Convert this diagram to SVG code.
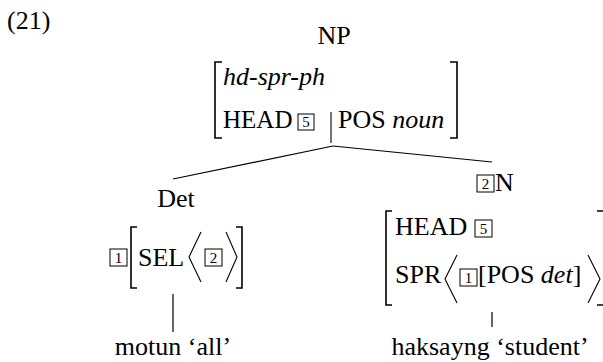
<svg xmlns="http://www.w3.org/2000/svg" width="603" height="362" viewBox="0 0 603 362">
<style>
text{font-family:"Liberation Serif","Times New Roman",serif;font-size:26px;fill:#000}
.it{font-style:italic}
.num{font-size:15px;text-anchor:middle}
.mid{text-anchor:middle}
.box{fill:none;stroke:#000;stroke-width:1}
.br{fill:none;stroke:#000;stroke-width:1.6}
.ang{fill:none;stroke:#000;stroke-width:1.1}
.ln{stroke:#000;stroke-width:1.2;fill:none}
</style>
<rect width="603" height="362" fill="#fff"/>
<text x="7" y="29">(21)</text>

<g id="np">
<text x="334" y="44" class="mid">NP</text>
<path class="br" d="M222,62 H215 V138 H222"/>
<path class="br" d="M450,62 H457 V138 H450"/>
<text x="223" y="85" class="it">hd-spr-ph</text>
<text x="223" y="128" style="font-size:25px">HEAD</text>
<rect class="box" x="298" y="114" width="16" height="16"/>
<text x="306" y="127" class="num">5</text>
<line class="ang" x1="331" y1="112" x2="331" y2="143"/>
<text x="338" y="128">POS <tspan class="it">noun</tspan></text>
</g>

<g id="connectors">
<line class="ln" x1="333" y1="146" x2="173" y2="179"/>
<line class="ln" x1="333" y1="146" x2="492" y2="162"/>
<line class="ln" x1="173" y1="294" x2="173" y2="332"/>
<line class="ln" x1="492" y1="312" x2="492" y2="327"/>
</g>

<g id="det">
<text x="176" y="207" class="mid">Det</text>
<rect class="box" x="110" y="249" width="17" height="17"/>
<text x="118.5" y="263" class="num">1</text>
<path class="br" d="M137,227 H131 V288 H137"/>
<text x="138" y="266">SEL</text>
<polyline class="ang" points="201,232 189,257 201,282"/>
<rect class="box" x="205" y="249" width="17" height="17"/>
<text x="213.5" y="263" class="num">2</text>
<polyline class="ang" points="226,232 237,257 226,282"/>
<path class="br" d="M236,227 H242 V288 H236"/>
</g>

<g id="n">
<rect class="box" x="477" y="175" width="17" height="17"/>
<text x="485.5" y="189" class="num">2</text>
<text x="495" y="191">N</text>
<path class="br" d="M392,211 H386 V305 H392"/>
<text x="395" y="235">HEAD</text>
<rect class="box" x="475" y="220" width="17" height="17"/>
<text x="483.5" y="234" class="num">5</text>
<text x="395" y="283">SPR</text>
<polyline class="ang" points="457,255 445,279 457,303"/>
<rect class="box" x="460" y="269" width="17" height="17"/>
<text x="468.5" y="283" class="num">1</text>
<text x="478" y="283">[POS <tspan class="it">det</tspan>]</text>
<polyline class="ang" points="588,255 600,279 588,303"/>
<path class="br" d="M597,211 H604 V305 H597"/>
</g>

<g id="motun">
<text x="173" y="355" class="mid">motun ‘all’</text>
</g>
<g id="haksayng">
<text x="490" y="355" class="mid">haksayng ‘student’</text>
</g>
</svg>
